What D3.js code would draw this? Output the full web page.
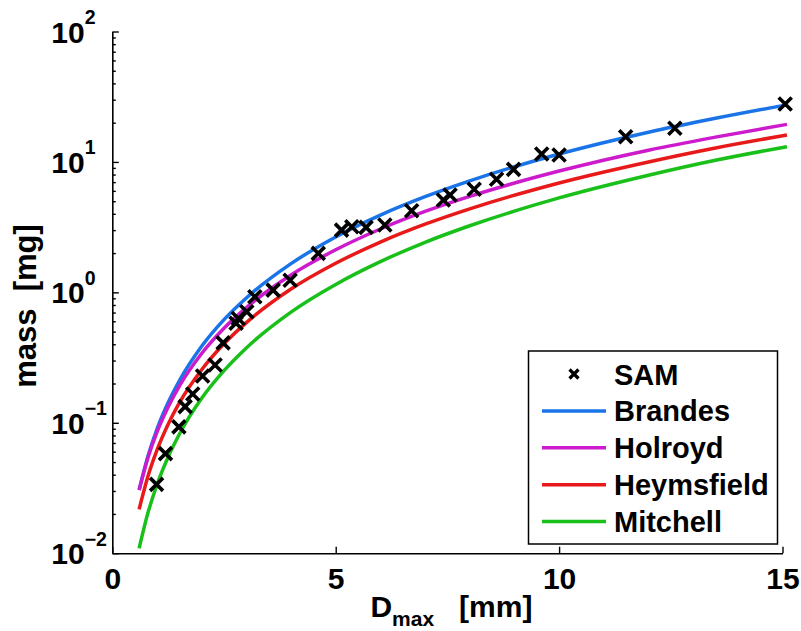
<!DOCTYPE html>
<html><head><meta charset="utf-8">
<script src="https://cdn.jsdelivr.net/npm/d3@7"></script>
<style>
body{margin:0;background:#fff}
svg text{font-family:"Liberation Sans",Arial,Helvetica,sans-serif;font-weight:bold;fill:#000}
</style>
</head><body>
<svg id="chart" width="801" height="631"></svg>
<script>
// ---- data ----
const samD    = [0.99,1.19,1.49,1.63,1.80,2.02,2.30,2.48,2.77,2.82,3.01,3.19,3.60,3.98,4.61,5.13,5.36,5.68,6.10,6.70,7.41,7.56,8.10,8.60,8.98,9.61,10.0,11.49,12.59,15.06];
const samMass = [0.0337,0.058,0.093,0.133,0.166,0.228,0.277,0.41,0.58,0.63,0.71,0.925,1.04,1.24,1.99,3.0,3.18,3.15,3.28,4.22,5.1,5.57,6.17,7.36,8.77,11.5,11.3,15.6,18.1,27.8];

const curveD     = [0.6,0.8,1,1.25,1.5,2,2.5,3,4,5,6,7,8,10,12,13.5,15.1];
const brandes    = [0.0305,0.0558,0.0895,0.143,0.210,0.386,0.618,0.906,1.66,2.66,3.91,5.41,7.16,11.5,16.9,21.6,27.4];
const holroyd    = [0.0305,0.0542,0.0848,0.132,0.191,0.340,0.531,0.764,1.36,2.12,3.06,4.17,5.44,8.51,12.3,15.5,19.4];
const heymsfield = [0.0217,0.0391,0.0617,0.0975,0.142,0.255,0.403,0.586,1.06,1.67,2.43,3.33,4.37,6.90,10.0,12.8,16.1];
const mitchell   = [0.0109,0.0205,0.0335,0.0547,0.0817,0.154,0.251,0.375,0.706,1.15,1.72,2.42,3.24,5.30,7.91,10.3,13.1];

const seriesNames  = ["Brandes","Holroyd","Heymsfield","Mitchell"];
const seriesColors = ["#1a74e8","#cc1acc","#e81919","#1ac01a"];
const seriesValues = [brandes,holroyd,heymsfield,mitchell];

const xTicks = [0,5,10,15];
const yMajor = [0.01,0.1,1,10,100];
const yExp   = ["\u22122","\u22121","0","1","2"];

// ---- layout ----
const svg = d3.select("#chart");
const L = 112.3, R = 782.5, T = 31.5, B = 553.2;
const x = d3.scaleLinear().domain([0,15]).range([L,R]);
const y = d3.scaleLog().domain([0.01,100]).range([B,T]);

// y ticks: majors + minors
const yAll = [];
for (let e=-2;e<=1;e++) for (let m=1;m<=9;m++) yAll.push(m*Math.pow(10,e));
yAll.push(100);
const isMajor = d => yMajor.some(v=>Math.abs(v-d)/v<1e-9);

const gy = svg.append("g").attr("transform",`translate(${L},0)`)
  .call(d3.axisLeft(y).tickValues(yAll).tickSizeOuter(0).tickFormat(""));
gy.select(".domain").attr("stroke","#000").attr("stroke-width",1.6);
gy.selectAll(".tick line").attr("stroke","#000").attr("stroke-width",1.4)
  .attr("x2", d => isMajor(d) ? 6.5 : 3.5);
gy.selectAll(".tick text").remove();
const ylab = gy.selectAll(".tick").filter(isMajor)
  .append("text").attr("x",-61).attr("y",10.5).attr("text-anchor","start")
  .style("font-size","30px");
ylab.append("tspan").text("10");
ylab.append("tspan").attr("dy",-18.5).style("font-size","19.5px")
  .text(d => yExp[yMajor.findIndex(v=>Math.abs(v-d)/v<1e-9)]);

const gx = svg.append("g").attr("transform",`translate(0,${B})`)
  .call(d3.axisBottom(x).tickValues(xTicks).tickSizeInner(-6.5).tickSizeOuter(0).tickFormat(d3.format("d")));
gx.select(".domain").attr("stroke","#000").attr("stroke-width",1.6);
gx.selectAll(".tick line").attr("stroke","#000").attr("stroke-width",1.4);
gx.selectAll(".tick text").attr("y",36).attr("dy",0).style("font-size","30px");

// axis labels
const xl = svg.append("text").attr("x",(L+R)/2+4).attr("y",617).attr("text-anchor","middle")
  .style("font-size","30px");
xl.append("tspan").text("D");
xl.append("tspan").attr("dy",9).style("font-size","21px").text("max");
xl.append("tspan").attr("dy",-9).style("white-space","pre").text("   [mm]");

svg.append("text").attr("transform",`translate(36,306) rotate(-90)`)
  .attr("text-anchor","middle").style("font-size","31px").style("white-space","pre")
  .text("mass  [mg]");

// curves
const line = d3.line().x(d=>x(d[0])).y(d=>y(d[1])).curve(d3.curveMonotoneX);
seriesValues.forEach((vals,i)=>{
  svg.append("path").datum(curveD.map((d,j)=>[d,vals[j]]))
    .attr("d",line).attr("fill","none").attr("stroke",seriesColors[i]).attr("stroke-width",3.5);
});

// SAM crosses
const cross = s => `M${-s},${-s}L${s},${s}M${-s},${s}L${s},${-s}`;
svg.append("g").selectAll("path").data(samD.map((d,i)=>[d,samMass[i]])).join("path")
  .attr("transform",d=>`translate(${x(d[0])},${y(d[1])})`)
  .attr("d",cross(6.5)).attr("stroke","#000").attr("stroke-width",3.6).attr("fill","none");

// legend
const lg = svg.append("g");
lg.append("rect").attr("x",528.5).attr("y",351).attr("width",249).attr("height",193)
  .attr("fill","#fff").attr("stroke","#000").attr("stroke-width",1.5);
const legItems = ["SAM"].concat(seriesNames);
legItems.forEach((name,i)=>{
  const cy = 374 + i*36.9;
  if (i===0) {
    lg.append("path").attr("transform",`translate(574,${cy})`).attr("d",cross(4.5))
      .attr("stroke","#000").attr("stroke-width",3.2).attr("fill","none");
  } else {
    lg.append("line").attr("x1",542).attr("x2",606).attr("y1",cy).attr("y2",cy)
      .attr("stroke",seriesColors[i-1]).attr("stroke-width",3.5);
  }
  lg.append("text").attr("x",614).attr("y",cy+10.5).style("font-size","29px").text(name);
});
</script>
</body></html>
